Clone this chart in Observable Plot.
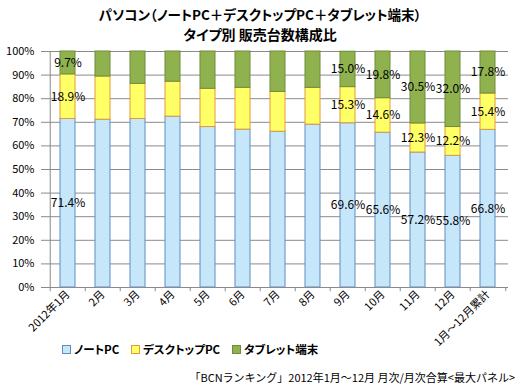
<!DOCTYPE html>
<html><head><meta charset="utf-8">
<script src="https://cdn.jsdelivr.net/npm/d3@7"></script>
<script src="https://cdn.jsdelivr.net/npm/@observablehq/plot@0.6"></script>
<style>
body{margin:0;background:#fff;font-family:"Noto Sans CJK JP",sans-serif;}
#wrap{position:relative;width:520px;height:386px;overflow:hidden;}
.t{position:absolute;left:0;width:520px;text-align:center;font-weight:bold;line-height:20px;color:#000;font-feature-settings:"palt";}
#t1{top:4px;font-size:13.5px;}
#t2{top:24px;font-size:14px;}
#chart{position:absolute;left:0;top:44px;}
#chart svg{overflow:visible;}
.leg{position:absolute;top:342px;font-size:11.5px;font-weight:bold;line-height:14px;white-space:nowrap;font-feature-settings:"palt";}
.sw{display:inline-block;width:7px;height:7px;border:1px solid;margin-right:3px;vertical-align:0px;}
#cap{position:absolute;right:5px;top:369px;font-size:11px;line-height:16px;white-space:nowrap;}
</style></head>
<body><div id="wrap">
<div class="t" id="t1">パソコン（ノートPC＋デスクトップPC＋タブレット端末）</div>
<div class="t" id="t2">タイプ別 販売台数構成比</div>
<div id="chart"></div>
<div id="cap">「BCNランキング」2012年1月〜12月 月次/月次合算&lt;最大パネル&gt;</div>
</div>
<script>
const categories = ["2012年1月","2月","3月","4月","5月","6月","7月","8月","9月","10月","11月","12月","1月〜12月累計"];
const seriesNames = ["ノートPC","デスクトップPC","タブレット端末"];
const notebook = [71.4,71.1,71.4,72.4,68.0,66.9,66.0,69.0,69.6,65.6,57.2,55.8,66.8];
const desktop  = [18.9,18.3,14.9,14.8,16.2,17.7,16.9,15.6,15.3,14.6,12.3,12.2,15.4];
const tablet   = [9.7,10.6,13.7,12.8,15.8,15.4,17.1,15.4,15.0,19.8,30.5,32.0,17.8];
const labeledCategories = ["2012年1月","9月","10月","11月","12月","1月〜12月累計"];
const yTicks = [0,10,20,30,40,50,60,70,80,90,100];

const fills = ["#C6E6FA","#FFFF66","#8FB24F"];
const strokes = ["#5E8DC4","#E59A3A","#6F8C3A"];

const series = [notebook, desktop, tablet];
const rows = [];
categories.forEach((c, i) => {
  seriesNames.forEach((s, j) => rows.push({cat: c, type: s, value: series[j][i], idx: j}));
});

const width = 520, mL = 46, mR = 12;
const step = (width - mL - mR) / categories.length;

const chart = Plot.plot({
  width, height: 300,
  marginTop: 7, marginBottom: 57, marginLeft: mL, marginRight: mR,
  style: {fontFamily: "Noto Sans CJK JP", fontSize: "11px", color: "#000", background: "#fff"},
  x: {domain: categories, paddingInner: 0.58, paddingOuter: 0.29, label: null},
  y: {domain: [0, 100], label: null},
  color: {domain: seriesNames, range: fills},
  marks: [
    Plot.ruleY(yTicks.slice(1), {stroke: "#8a8a8a", strokeWidth: 1}),
    Plot.barY(rows, Plot.stackY({x: "cat", y: "value", z: "type", fill: "type", stroke: d => strokes[d.idx], strokeWidth: 1})),
    Plot.ruleY([0], {stroke: "#8a8a8a"}),
    Plot.ruleX([categories[0]], {y1: 0, y2: 100, dx: -step / 2, stroke: "#8a8a8a"}),
    Plot.ruleX(categories, {y1: 0, y2: -1.8, dx: -step / 2, stroke: "#8a8a8a"}),
    Plot.ruleX([categories[categories.length - 1]], {y1: 0, y2: -1.8, dx: step / 2, stroke: "#8a8a8a"}),
    Plot.axisY({ticks: yTicks, tickFormat: d => d + "%", tickSize: 5, tickPadding: 7, stroke: "#8a8a8a", fontSize: 11}),
    Plot.axisX({tickSize: 0, tickPadding: 5, tickRotate: -45, fontSize: 11}),
    Plot.text(rows, Plot.stackY({x: "cat", y: "value", z: "type",
      text: d => labeledCategories.includes(d.cat) ? d.value.toFixed(1) + "%" : "",
      fill: "#000", fontSize: 12}))
  ]
});
document.getElementById("chart").appendChild(chart);

const legendPos = [62, 131, 232];
seriesNames.forEach((s, j) => {
  const d = document.createElement("div");
  d.className = "leg";
  d.style.left = legendPos[j] + "px";
  d.innerHTML = `<span class="sw" style="background:${fills[j]};border-color:${strokes[j]}"></span>${s}`;
  document.getElementById("wrap").appendChild(d);
});
</script>
</body></html>
